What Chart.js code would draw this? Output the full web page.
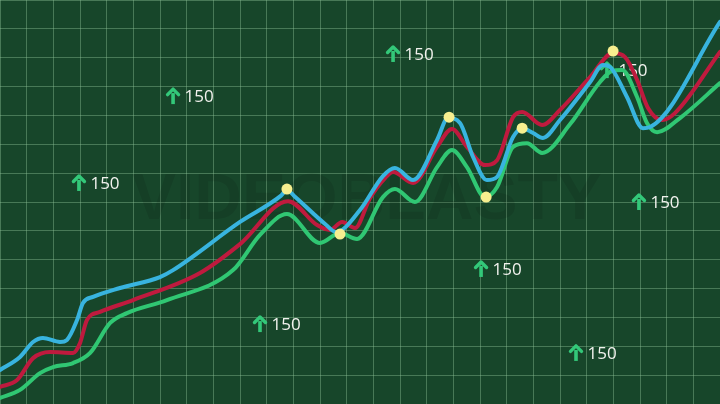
<!DOCTYPE html>
<html>
<head>
<meta charset="utf-8">
<script src="https://cdn.jsdelivr.net/npm/chart.js@4"></script>
<style>
  html, body { margin: 0; padding: 0; background: #17462a; }
  #c { display: block; background: #17462a; }
</style>
</head>
<body>
<canvas id="c" width="720" height="404"></canvas>
<script>
// ---- data (x: 0..270, y: 0..140) ----
const blueX = [0, 7.5, 12.4, 16.1, 22.5, 25.1, 28.9, 31.1, 34.9, 45, 60, 64.9, 90, 105.4, 107.6, 110.3, 121.9, 126, 135, 143.6, 148.1, 154.9, 163.9, 168, 172.5, 177.4, 182.6, 186.4, 192.4, 195.8, 199.9, 203.6, 210, 221.3, 226.1, 228.8, 235.1, 241.1, 243.8, 270];
const blueY = [11.8, 16.3, 21.5, 22.9, 21.5, 22.2, 29.1, 35.0, 37.1, 40.2, 44.0, 46.4, 63.1, 72.2, 74.2, 72.1, 62.4, 59.6, 67.2, 79.0, 81.8, 77.6, 91.5, 99.1, 97.4, 85.6, 77.6, 78.7, 92.5, 95.6, 93.9, 92.2, 98.4, 111.6, 117.5, 116.8, 106.4, 95.6, 96.0, 132.4];

const redX = [0, 6.4, 12.4, 18.8, 27.4, 30, 32.6, 37.5, 49.9, 75, 90, 108, 118.9, 123.8, 128.3, 133.1, 138.8, 144.4, 147.4, 154.9, 163.9, 169.5, 175.1, 181.9, 186.4, 192.4, 195.8, 203.3, 210, 221.3, 229.9, 234.4, 238.9, 243, 248.3, 253.1, 270];
const redY = [5.9, 8.3, 15.9, 18.0, 17.7, 21.1, 29.1, 31.9, 36.0, 45.4, 55.4, 70.3, 62.0, 60.3, 63.1, 61.0, 71.4, 78.3, 80.4, 76.6, 89.1, 95.3, 89.1, 82.8, 84.5, 99.4, 101.2, 96.7, 101.9, 113.3, 121.6, 120.2, 112.3, 102.6, 98.4, 100.8, 122.0];

const greenX = [0, 7.5, 15, 19.9, 27.4, 33.8, 41.3, 47.6, 62.6, 87.4, 97.5, 107.6, 120, 127.5, 133.9, 143.6, 148.1, 155.6, 163.9, 169.5, 175.1, 181.9, 186.4, 192.4, 197.6, 203.3, 213.8, 225, 229.5, 233.3, 238.9, 242.6, 246.4, 255, 270];
const greenY = [2.1, 4.9, 10.7, 12.8, 14.2, 17.7, 28.1, 31.5, 36.0, 46.4, 58.6, 65.8, 55.8, 59.3, 57.2, 71.7, 74.5, 70.0, 82.1, 88.0, 82.1, 71.7, 75.2, 89.1, 90.4, 87.0, 97.0, 111.6, 115.4, 115.7, 106.4, 97.4, 94.2, 99.1, 111.2];

const dotX = [107.6, 127.5, 168.4, 182.3, 195.8, 229.9];
const dotY = [74.5, 58.9, 99.4, 71.7, 95.6, 122.3];

const labelX = [64.9, 147.4, 29.6, 239.6, 180.4, 97.5, 216, 227.6];
const labelY = [106.7, 121.3, 76.6, 70.0, 46.8, 27.7, 17.7, 115.7];
const labelText = ["150", "150", "150", "150", "150", "150", "150", "150"];

const watermark = "VIDEOBLASTY";

function pts(xs, ys) { return xs.map((x, i) => ({ x: x, y: ys[i] })); }

const decorPlugin = {
  id: 'decor',
  beforeDatasetsDraw(chart) {
    const ctx = chart.ctx;
    const xs = chart.scales.x, ys = chart.scales.y;
    ctx.save();
    // watermark
    const cx = xs.getPixelForValue(137.6), cy = ys.getPixelForValue(70.3);
    ctx.font = 'bold 64px "Liberation Sans", Arial, sans-serif';
    ctx.textAlign = 'center';
    ctx.textBaseline = 'middle';
    const w = ctx.measureText(watermark).width;
    ctx.translate(cx, cy);
    ctx.scale(470 / w, 1);
    ctx.fillStyle = 'rgba(0,0,0,0.10)';
    ctx.fillText(watermark, 0, 0);
    ctx.restore();

    // up-arrow labels
    ctx.save();
    labelX.forEach((lx, i) => {
      const px = xs.getPixelForValue(lx), py = ys.getPixelForValue(labelY[i]);
      ctx.strokeStyle = '#33c879';
      ctx.lineWidth = 3.6;
      ctx.lineCap = 'butt';
      ctx.beginPath();
      ctx.moveTo(px, py + 8);
      ctx.lineTo(px, py - 3);
      ctx.stroke();
      ctx.lineWidth = 3.4;
      ctx.lineJoin = 'round';
      ctx.lineCap = 'round';
      ctx.beginPath();
      ctx.moveTo(px - 5.5, py - 1.5);
      ctx.lineTo(px, py - 7);
      ctx.lineTo(px + 5.5, py - 1.5);
      ctx.stroke();
      ctx.fillStyle = '#f2f2ee';
      ctx.font = '17px "Open Sans", "Noto Sans", sans-serif';
      ctx.textAlign = 'left';
      ctx.textBaseline = 'middle';
      ctx.fillText(labelText[i], px + 11.5, py + 1);
    });
    ctx.restore();
  }
};

const lineBase = {
  pointRadius: 0,
  borderWidth: 4,
  cubicInterpolationMode: 'monotone',
  borderCapStyle: 'round',
  borderJoinStyle: 'round',
  fill: false,
  clip: false
};

new Chart(document.getElementById('c'), {
  type: 'line',
  data: {
    datasets: [
      { label: 'points', data: pts(dotX, dotY), showLine: false, pointRadius: 5.5, pointHoverRadius: 5.5,
        pointBackgroundColor: '#f7ef8f', pointBorderWidth: 0 },
      Object.assign({ label: 'blue', data: pts(blueX, blueY), borderColor: '#38b4df' }, lineBase),
      Object.assign({ label: 'red', data: pts(redX, redY), borderColor: '#bf1a3e' }, lineBase),
      Object.assign({ label: 'green', data: pts(greenX, greenY), borderColor: '#30c773' }, lineBase)
    ]
  },
  options: {
    responsive: false,
    animation: false,
    layout: { padding: 0, autoPadding: false },
    plugins: { legend: { display: false }, tooltip: { enabled: false } },
    scales: {
      x: {
        type: 'linear', min: 0, max: 270,
        ticks: { display: false, stepSize: 10 },
        grid: { color: 'rgba(140,190,150,0.42)', lineWidth: 1, drawTicks: false },
        border: { display: false }
      },
      y: {
        type: 'linear', min: 0, max: 140,
        ticks: { display: false, stepSize: 10 },
        grid: { color: 'rgba(140,190,150,0.42)', lineWidth: 1, drawTicks: false },
        border: { display: false }
      }
    }
  },
  plugins: [decorPlugin]
});
</script>
</body>
</html>
